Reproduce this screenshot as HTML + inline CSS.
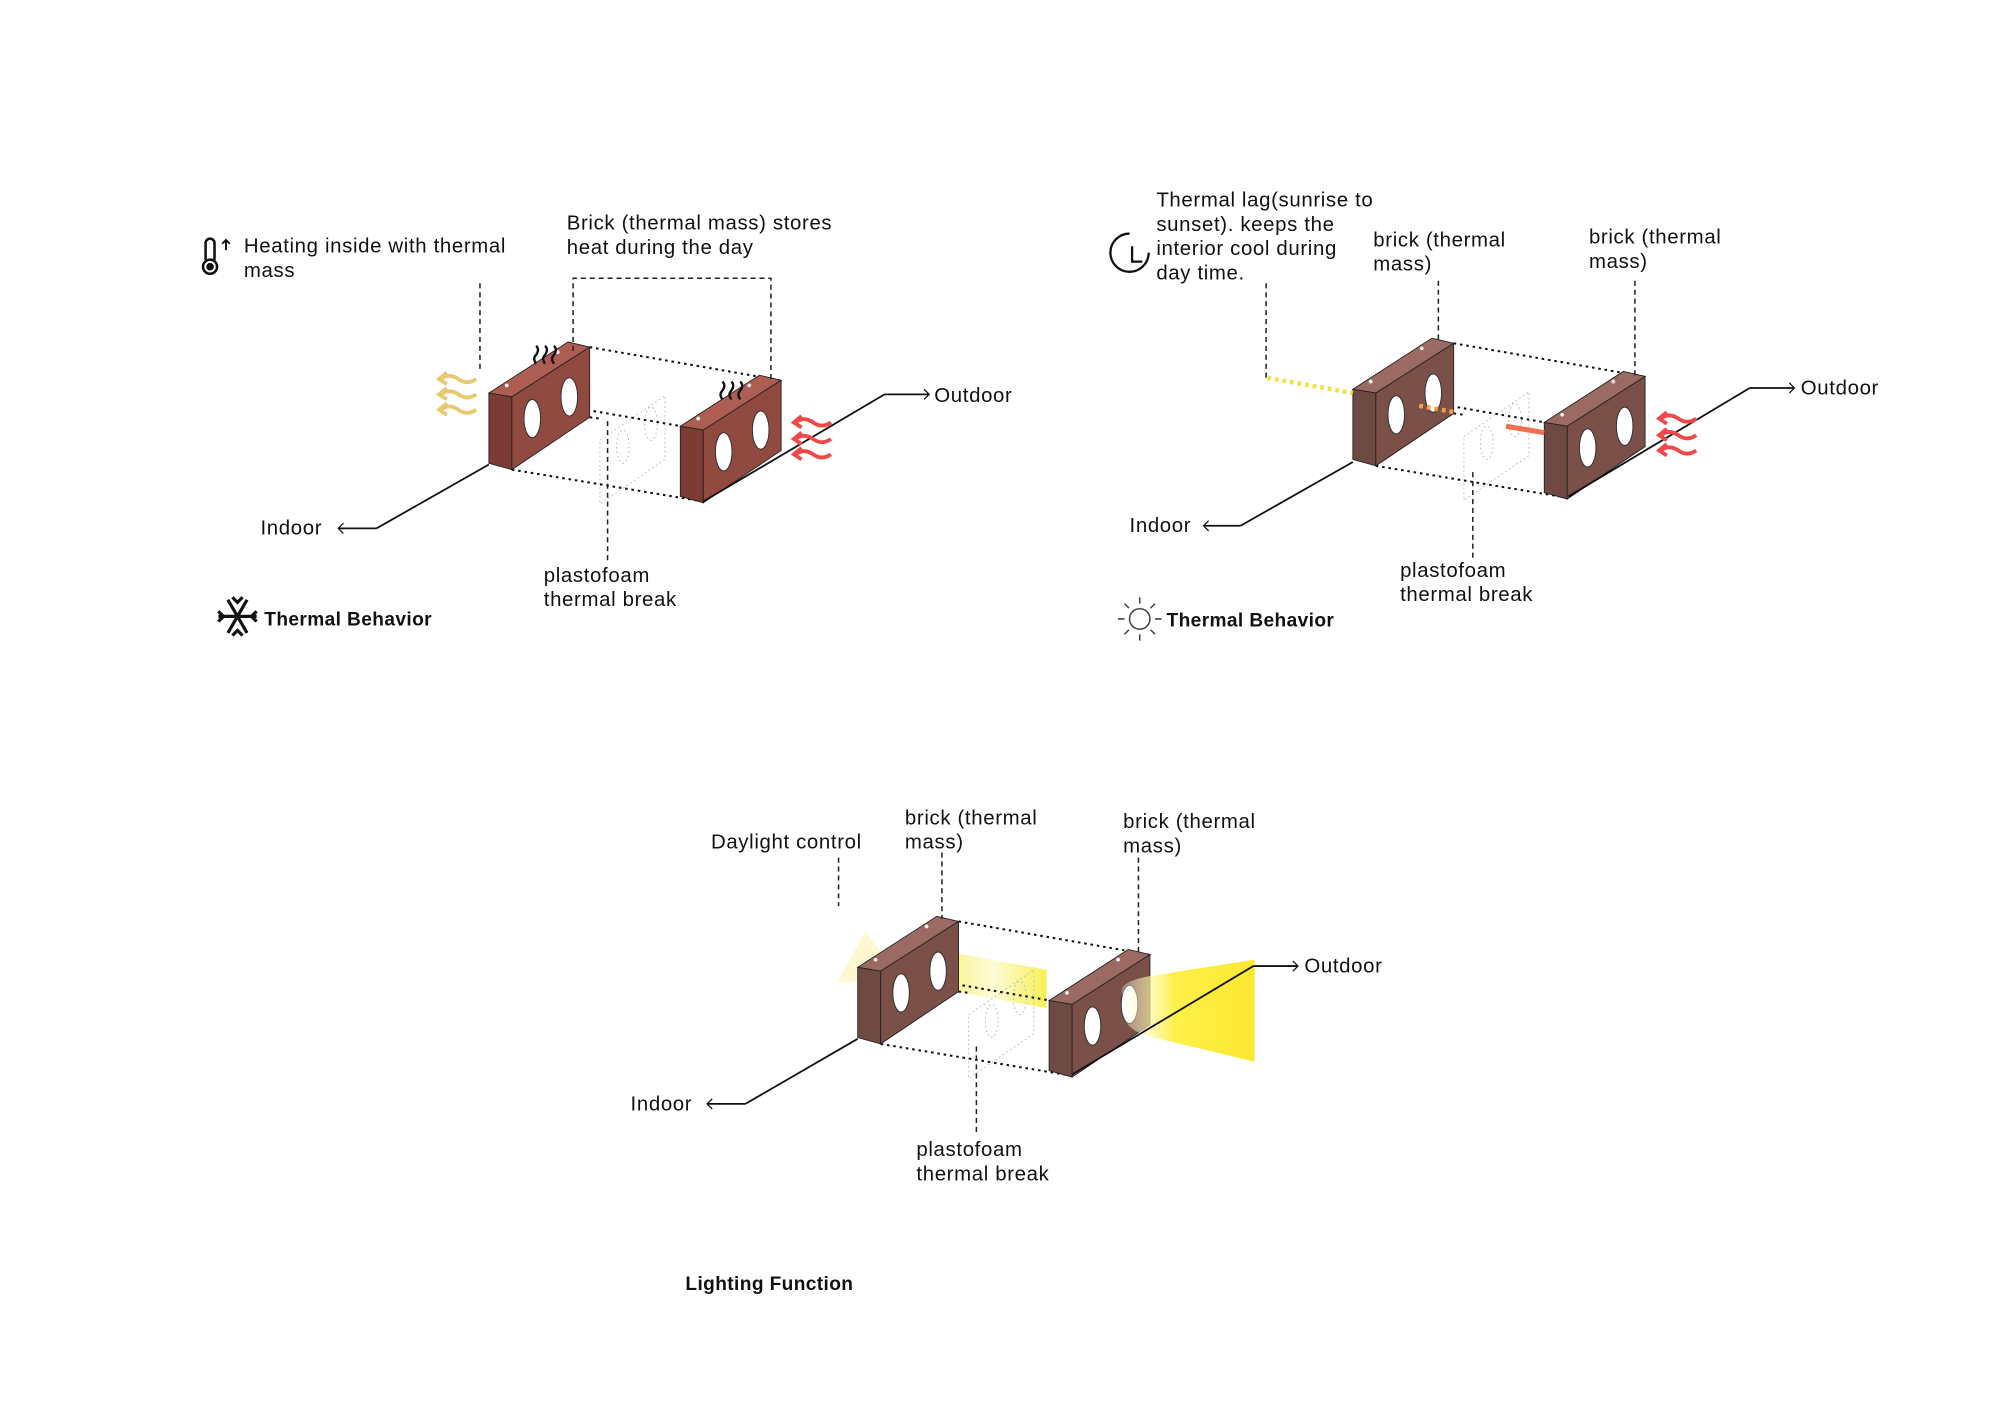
<!DOCTYPE html>
<html><head><meta charset="utf-8"><style>
html,body{margin:0;padding:0;background:#fff}
svg{display:block}
text{font-family:"Liberation Sans",sans-serif;font-size:16px;letter-spacing:0.5px;fill:#111}
.b{font-weight:bold;font-size:15px;letter-spacing:0.3px}
</style></head><body>
<svg width="2000" height="1414" viewBox="0 0 1567 1108" xmlns="http://www.w3.org/2000/svg">
<defs>
<linearGradient id="cone" x1="0" x2="1" y1="0" y2="0">
<stop offset="0" stop-color="#fff" stop-opacity="0.3"/><stop offset="0.4" stop-color="#fdf04a"/><stop offset="1" stop-color="#fbe830"/></linearGradient>
<linearGradient id="beam" x1="0" x2="1"><stop offset="0" stop-color="#fbf07a"/><stop offset="0.5" stop-color="#fdfbd0"/><stop offset="1" stop-color="#f6ee40"/></linearGradient>
<g id="brickR">
<polygon points="383,308 445,268 462,272 401,311" fill="#ad5d52" stroke="#222" stroke-width="0.7"/>
<polygon points="383,308 401,311 401,368 383,363" fill="#7c3b33" stroke="#222" stroke-width="0.7"/>
<polygon points="401,311 462,272 462,327 401,368" fill="#914a40" stroke="#222" stroke-width="0.7"/>
<ellipse cx="417" cy="328" rx="6.5" ry="15" fill="#fff" stroke="#333" stroke-width="0.8"/>
<ellipse cx="446" cy="311" rx="6.5" ry="15" fill="#fff" stroke="#333" stroke-width="0.8"/>
<circle cx="397" cy="302" r="1.5" fill="#eee"/><circle cx="437" cy="276" r="1.5" fill="#eee"/>
</g>
<g id="brickB">
<polygon points="383,308 445,268 462,272 401,311" fill="#9b6a62" stroke="#222" stroke-width="0.7"/>
<polygon points="383,308 401,311 401,368 383,363" fill="#6f4a43" stroke="#222" stroke-width="0.7"/>
<polygon points="401,311 462,272 462,327 401,368" fill="#7a5048" stroke="#222" stroke-width="0.7"/>
<ellipse cx="417" cy="328" rx="6.5" ry="15" fill="#fff" stroke="#333" stroke-width="0.8"/>
<ellipse cx="446" cy="311" rx="6.5" ry="15" fill="#fff" stroke="#333" stroke-width="0.8"/>
<circle cx="397" cy="302" r="1.5" fill="#eee"/><circle cx="437" cy="276" r="1.5" fill="#eee"/>
</g>
<g id="frame" fill="none" stroke="#111" stroke-width="1.6" stroke-dasharray="2,3">
<line x1="462" y1="272" x2="611" y2="298"/>
<line x1="401" y1="311" x2="551" y2="337"/>
<line x1="401" y1="368" x2="551" y2="393"/>
<line x1="462" y1="327" x2="470" y2="328"/>
</g>
<g id="ghost" fill="none" stroke="#bbb" stroke-width="0.7" stroke-dasharray="1.5,2">
<polygon points="470,345 521,310 521,360 470,395"/>
<ellipse cx="488" cy="350" rx="5" ry="13"/><ellipse cx="510" cy="332" rx="5" ry="13"/>
</g>
</defs>

<!-- ===== Diagram 1 ===== -->
<use href="#ghost"/>
<use href="#frame"/>
<line x1="295" y1="414" x2="383" y2="364" stroke="#111" stroke-width="1.4"/>
<line x1="265" y1="414" x2="295" y2="414" stroke="#111" stroke-width="1.4"/>
<path d="M269,410 l-4,4 l4,4" fill="none" stroke="#111"/>
<text x="204" y="419">Indoor</text>
<use href="#brickR"/>
<use href="#brickR" transform="translate(150,26)"/>
<line x1="551" y1="393" x2="693" y2="309" stroke="#111" stroke-width="1.4"/>
<line x1="693" y1="309" x2="728" y2="309" stroke="#111" stroke-width="1.4"/>
<path d="M724,305 l4,4 l-4,4" fill="none" stroke="#111"/>
<text x="732" y="315">Outdoor</text>
<g stroke="#222" stroke-width="1.2" stroke-dasharray="4,3" fill="none">
<line x1="376" y1="222" x2="376" y2="292"/>
<polyline points="449,275 449,218 604,218 604,300"/>
<line x1="476" y1="330" x2="476" y2="440"/>
</g>
<text x="191" y="198">Heating inside with thermal</text>
<text x="191" y="217">mass</text>
<text x="444" y="180">Brick (thermal mass) stores</text>
<text x="444" y="199">heat during the day</text>
<text x="426" y="456">plastofoam</text>
<text x="426" y="475">thermal break</text>
<g fill="none" stroke="#111" stroke-width="2">
<rect x="161" y="187" width="7" height="19" rx="3.5"/><circle cx="164.5" cy="209" r="5.5" fill="#fff"/>
<path d="M177,196 v-8 M174,191 l3,-3 l3,3" stroke-width="1.5"/></g>
<circle cx="164.5" cy="209" r="3" fill="#111"/>
<g stroke="#111" stroke-width="1.8" fill="none">
<path d="M420,285 q-3,-4 0,-7 q3,-4 0,-7"/><path d="M427,285 q-3,-4 0,-7 q3,-4 0,-7"/><path d="M434,285 q-3,-4 0,-7 q3,-4 0,-7"/>
<path d="M566,313 q-3,-4 0,-7 q3,-4 0,-7"/><path d="M573,313 q-3,-4 0,-7 q3,-4 0,-7"/><path d="M580,313 q-3,-4 0,-7 q3,-4 0,-7"/>
</g>
<g stroke="#e8c870" fill="none" stroke-width="3">
<path d="M345,297 q7,-5 14,0 t14,0"/><path d="M345,309 q7,-5 14,0 t14,0"/><path d="M345,321 q7,-5 14,0 t14,0"/>
<path d="M350,292 l-6,5 l6,4"/><path d="M350,304 l-6,5 l6,4"/><path d="M350,316 l-6,5 l6,4"/>
</g>
<g stroke="#f04848" fill="none" stroke-width="3">
<path d="M623,331 q7,-5 14,0 t14,0"/><path d="M623,344 q7,-5 14,0 t14,0"/><path d="M623,356 q7,-5 14,0 t14,0"/>
<path d="M628,326 l-6,5 l6,4"/><path d="M628,339 l-6,5 l6,4"/><path d="M628,351 l-6,5 l6,4"/>
</g>
<g stroke="#111" stroke-width="2.5" fill="none" transform="translate(186,483)">
<line x1="-15" y1="0" x2="15" y2="0"/><line x1="-7.5" y1="-13" x2="7.5" y2="13"/><line x1="-7.5" y1="13" x2="7.5" y2="-13"/>
<path d="M-15,-4 l4,4 l-4,4 M15,-4 l-4,4 l4,4 M-4,-15 l4,4 l4,-4 M-4,15 l4,-4 l4,4"/>
</g>
<text x="207" y="490" class="b">Thermal Behavior</text>

<!-- ===== Diagram 2 ===== -->
<g transform="translate(677,-3)">
<use href="#ghost"/><use href="#frame"/>
<use href="#brickB"/>
<use href="#brickB" transform="translate(150,26)"/>
</g>
<line x1="993" y1="296" x2="1060" y2="308" stroke="#f3e14a" stroke-width="3.5" stroke-dasharray="3,3"/>
<line x1="1112" y1="318" x2="1140" y2="323" stroke="#f6a040" stroke-width="3.5" stroke-dasharray="3,3"/>
<line x1="1180" y1="334" x2="1210" y2="339" stroke="#f07050" stroke-width="4"/>
<line x1="972" y1="412" x2="1060" y2="362" stroke="#111" stroke-width="1.4"/>
<line x1="943" y1="412" x2="972" y2="412" stroke="#111" stroke-width="1.4"/>
<path d="M947,408 l-4,4 l4,4" fill="none" stroke="#111"/>
<text x="885" y="417">Indoor</text>
<line x1="1229" y1="389" x2="1371" y2="304" stroke="#111" stroke-width="1.4"/>
<line x1="1371" y1="304" x2="1406" y2="304" stroke="#111" stroke-width="1.4"/>
<path d="M1402,300 l4,4 l-4,4" fill="none" stroke="#111"/>
<text x="1411" y="309">Outdoor</text>
<g stroke="#222" stroke-width="1.2" stroke-dasharray="4,3" fill="none">
<polyline points="992,222 992,296"/>
<line x1="1127" y1="220" x2="1127" y2="268"/>
<line x1="1281" y1="220" x2="1281" y2="296"/>
<line x1="1154" y1="370" x2="1154" y2="437"/>
</g>
<text x="906" y="162">Thermal lag(sunrise to</text>
<text x="906" y="181">sunset). keeps the</text>
<text x="906" y="200">interior cool during</text>
<text x="906" y="219">day time.</text>
<text x="1076" y="193">brick (thermal</text>
<text x="1076" y="212">mass)</text>
<text x="1245" y="191">brick (thermal</text>
<text x="1245" y="210">mass)</text>
<text x="1097" y="452">plastofoam</text>
<text x="1097" y="471">thermal break</text>
<g stroke="#f04848" fill="none" stroke-width="3">
<path d="M1301,328 q7,-5 14,0 t14,0"/><path d="M1301,341 q7,-5 14,0 t14,0"/><path d="M1301,353 q7,-5 14,0 t14,0"/>
<path d="M1306,323 l-6,5 l6,4"/><path d="M1306,336 l-6,5 l6,4"/><path d="M1306,348 l-6,5 l6,4"/>
</g>
<g fill="none" stroke="#111" stroke-width="1.8">
<path d="M900,198 a15,15 0 1 1 -15,-15"/><path d="M887,193 v12 h8"/></g>
<g stroke="#444" stroke-width="1.2" fill="none" transform="translate(893,485)">
<circle r="8"/>
<path d="M0,-12v-5M0,12v5M-12,0h-5M12,0h5M8.5,8.5l3.5,3.5M-8.5,-8.5l-3.5,-3.5M8.5,-8.5l3.5,-3.5M-8.5,8.5l-3.5,3.5"/>
</g>
<text x="914" y="491" class="b">Thermal Behavior</text>

<!-- ===== Diagram 3 ===== -->
<polygon points="656,770 678,730 700,760 690,768" fill="#fdf6c0" opacity="0.8"/>
<polygon points="738,745 820,760 820,790 738,775" fill="url(#beam)" opacity="0.9"/>
<g transform="translate(289,450)">
<use href="#ghost"/><use href="#frame"/>
<use href="#brickB"/>
<use href="#brickB" transform="translate(150,26)"/>
</g>
<path d="M880,780 Q874,770 900,765 L983,752 L983,832 L900,812 Q874,805 880,780 Z" fill="url(#cone)"/>
<line x1="840" y1="842" x2="982" y2="757" stroke="#111" stroke-width="1.4"/>
<line x1="982" y1="757" x2="1017" y2="757" stroke="#111" stroke-width="1.4"/>
<path d="M1013,753 l4,4 l-4,4" fill="none" stroke="#111"/>
<text x="1022" y="762">Outdoor</text>
<line x1="584" y1="865" x2="672" y2="814" stroke="#111" stroke-width="1.4"/>
<line x1="554" y1="865" x2="584" y2="865" stroke="#111" stroke-width="1.4"/>
<path d="M558,861 l-4,4 l4,4" fill="none" stroke="#111"/>
<text x="494" y="870">Indoor</text>
<g stroke="#222" stroke-width="1.2" stroke-dasharray="4,3" fill="none">
<line x1="657" y1="672" x2="657" y2="710"/>
<line x1="738" y1="668" x2="738" y2="720"/>
<line x1="892" y1="672" x2="892" y2="748"/>
<line x1="765" y1="820" x2="765" y2="890"/>
</g>
<text x="557" y="665">Daylight control</text>
<text x="709" y="646">brick (thermal</text>
<text x="709" y="665">mass)</text>
<text x="880" y="649">brick (thermal</text>
<text x="880" y="668">mass)</text>
<text x="718" y="906">plastofoam</text>
<text x="718" y="925">thermal break</text>
<text x="537" y="1011" class="b">Lighting Function</text>
</svg>
</body></html>
